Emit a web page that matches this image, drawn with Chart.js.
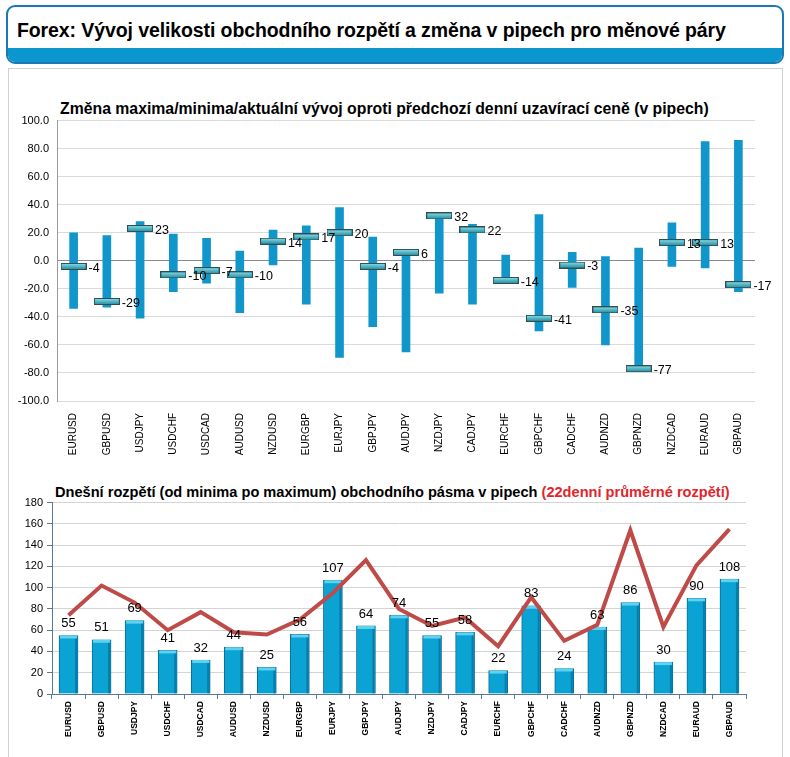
<!DOCTYPE html>
<html lang="cs">
<head>
<meta charset="UTF-8">
<title>Forex: Vývoj velikosti obchodního rozpětí</title>
<script src="https://cdn.jsdelivr.net/npm/chart.js"></script>
<style>
    body { margin: 0; background: #fff; font-family: "Liberation Sans", Arial, sans-serif; }
    .page { position: relative; width: 790px; height: 757px; overflow: hidden; }
    .header { position: absolute; left: 6px; top: 5px; width: 774px; height: 55px; border: 2px solid #1b78b4; border-radius: 9px; overflow: hidden; background: #fff; }
    .header .band { position: absolute; left: 0; right: 0; bottom: 0; height: 14px; background: #0b96cd; }
    .header h1 { margin: 0; position: absolute; left: 9px; top: 12px; font-size: 19.5px; font-weight: bold; color: #000; letter-spacing: -0.1px; }
    .panel { position: absolute; left: 8px; top: 68px; width: 773px; height: 700px; border: 1px solid #d0d0d0; }
    .title { position: absolute; font-weight: bold; color: #000; white-space: nowrap; }
    .title .red { color: #e0262c; }
    canvas { position: absolute; }
</style>
</head>
<body>
<div class="page">
    <div class="header"><h1>Forex: Vývoj velikosti obchodního rozpětí a změna v pipech pro měnové páry</h1><div class="band"></div></div>
    <div class="panel"></div>
    <div class="title" style="left:60px; top:100px; font-size:15.8px;">Změna maxima/minima/aktuální vývoj oproti předchozí denní uzavírací ceně (v pipech)</div>
    <div class="title" style="left:55px; top:484px; font-size:14.6px;">Dnešní rozpětí (od minima po maximum) obchodního pásma v pipech <span class="red">(22denní průměrné rozpětí)</span></div>
    <canvas id="changeChart" width="775" height="351" style="left:0; top:106px;"></canvas>
    <canvas id="rangeChart" width="770" height="252" style="left:0; top:492px;"></canvas>
</div>

<script>
    const pairs = ['EURUSD', 'GBPUSD', 'USDJPY', 'USDCHF', 'USDCAD', 'AUDUSD', 'NZDUSD', 'EURGBP', 'EURJPY', 'GBPJPY', 'AUDJPY',
                   'NZDJPY', 'CADJPY', 'EURCHF', 'GBPCHF', 'CADCHF', 'AUDNZD', 'GBPNZD', 'NZDCAD', 'EURAUD', 'GBPAUD'];

    // horní graf: maximum / minimum / aktuální změna (pipy)
    const highChange = [20, 18, 28, 19, 16, 7, 22, 25, 38, 17, 8, 32, 26, 4, 33, 6, 3, 9, 27, 85, 86];
    const lowChange  = [-34, -33, -41, -22, -16, -37, -3, -31, -69, -47, -65, -23, -31, -16, -50, -19, -60, -77, -4, -5, -22];
    const currentChange = [-4, -29, 23, -10, -7, -10, 14, 17, 20, -4, 6, 32, 22, -14, -41, -3, -35, -77, 13, 13, -17];
    const changeTicks = { min: -100, max: 100, step: 20 };

    // dolní graf: dnešní rozpětí a 22denní průměr
    const todayRange = [55, 51, 69, 41, 32, 44, 25, 56, 107, 64, 74, 55, 58, 22, 83, 24, 63, 86, 30, 90, 108];
    const avgRange22 = [74, 102, 86, 60, 77, 58, 56, 70, 95, 126, 80, 64, 72, 45, 91, 50, 65, 154, 63, 121, 155];
    const rangeTicks = { min: 0, max: 180, step: 20 };

    // značka aktuální hodnoty (vodorovná lišta)
    function makeMarker() {
        const c = document.createElement('canvas');
        c.width = 26; c.height = 7;
        const g = c.getContext('2d');
        const grad = g.createLinearGradient(0, 0, 0, 7);
        grad.addColorStop(0, '#9fe0ea');
        grad.addColorStop(0.5, '#4fb6c8');
        grad.addColorStop(1, '#2a8496');
        g.fillStyle = '#2d4f4f';
        g.fillRect(0, 0, 26, 7);
        g.fillStyle = grad;
        g.fillRect(1, 1, 24, 5);
        return c;
    }

    const changeLabels = {
        id: 'changeLabels',
        afterDatasetsDraw(chart) {
            const meta = chart.getDatasetMeta(1);
            const ctx = chart.ctx;
            ctx.save();
            ctx.font = '12.5px "Liberation Sans", Arial, sans-serif';
            ctx.fillStyle = '#000';
            ctx.textBaseline = 'middle';
            meta.data.forEach((pt, i) => {
                ctx.fillText(currentChange[i], pt.x + 15, pt.y + 2);
            });
            ctx.restore();
        }
    };

    new Chart(document.getElementById('changeChart'), {
        type: 'bar',
        data: {
            labels: pairs,
            datasets: [
                { label: 'Rozpětí', data: pairs.map((p, i) => [lowChange[i], highChange[i]]), backgroundColor: '#1196cc',
                  barThickness: 8, grouped: false, order: 2 },
                { label: 'Aktuální', type: 'line', data: currentChange, showLine: false, pointStyle: makeMarker(),
                  pointRadius: 13, pointHoverRadius: 13, order: 1 }
            ]
        },
        options: {
            responsive: false,
            animation: false,
            devicePixelRatio: 1,
            layout: { padding: { top: 3, right: 20, left: 0, bottom: 0 } },
            plugins: { legend: { display: false }, tooltip: { enabled: false } },
            scales: {
                x: {
                    grid: { display: false },
                    border: { display: false },
                    ticks: { color: '#000', font: { size: 10, family: '"Liberation Sans", Arial' }, maxRotation: 90, minRotation: 90, padding: 4 },
                    afterFit: s => { s.height = 56; }
                },
                y: {
                    min: changeTicks.min, max: changeTicks.max,
                    ticks: { stepSize: changeTicks.step, color: '#000', padding: 8, callback: v => v.toFixed(1),
                             font: { size: 11, family: '"Liberation Sans", Arial' } },
                    grid: { color: c => c.tick.value === 0 ? '#8a8a8a' : '#dadada', drawTicks: false },
                    border: { display: true, color: '#9a9a9a' },
                    afterFit: s => { s.width = 57; }
                }
            }
        },
        plugins: [changeLabels]
    });

    const rangeLabels = {
        id: 'rangeLabels',
        afterDatasetsDraw(chart) {
            const meta = chart.getDatasetMeta(1);
            const ctx = chart.ctx;
            ctx.save();
            ctx.font = '13px "Liberation Sans", Arial, sans-serif';
            ctx.fillStyle = '#000';
            ctx.textAlign = 'center';
            ctx.textBaseline = 'middle';
            meta.data.forEach((bar, i) => {
                ctx.fillText(todayRange[i], bar.x, bar.y - 12);
            });
            ctx.restore();
        }
    };

    const barCaps = {
        id: 'barCaps',
        afterDatasetDraw(chart, args) {
            if (args.index !== 1) return;
            const ctx = chart.ctx;
            ctx.save();
            args.meta.data.forEach(bar => {
                const w = bar.width;
                ctx.fillStyle = '#5fd2f0';
                ctx.fillRect(bar.x - w / 2 + 1, bar.y, w - 2, 3);
                ctx.fillStyle = 'rgba(0,60,90,0.35)';
                ctx.fillRect(bar.x + w / 2 - 3, bar.y + 3, 2, bar.base - bar.y - 3);
            });
            ctx.restore();
        }
    };

    new Chart(document.getElementById('rangeChart'), {
        type: 'bar',
        data: {
            labels: pairs,
            datasets: [
                { label: '22denní průměr', type: 'line', data: avgRange22, borderColor: '#bf4b48', borderWidth: 4,
                  pointRadius: 0, tension: 0, order: 1 },
                { label: 'Dnešní rozpětí', data: todayRange, backgroundColor: '#0ba2d4', borderColor: '#0a6d96',
                  borderWidth: 1, barThickness: 19, order: 2 }
            ]
        },
        options: {
            responsive: false,
            animation: false,
            devicePixelRatio: 1,
            layout: { padding: { top: 7, right: 24, left: 0, bottom: 0 } },
            plugins: { legend: { display: false }, tooltip: { enabled: false } },
            scales: {
                x: {
                    grid: { display: true, drawOnChartArea: false, color: '#5a7890', tickLength: 5, offset: true },
                    border: { display: true, color: '#5a7890' },
                    ticks: { color: '#000', font: { size: 8.5, weight: 'bold', family: '"Liberation Sans", Arial' },
                             maxRotation: 90, minRotation: 90, padding: 2 },
                    afterFit: s => { s.height = 50; }
                },
                y: {
                    min: rangeTicks.min, max: rangeTicks.max,
                    ticks: { stepSize: rangeTicks.step, color: '#000', padding: 4,
                             font: { size: 11, family: '"Liberation Sans", Arial' } },
                    grid: { color: c => c.tick.value === 0 ? 'rgba(0,0,0,0)' : '#d4d4d4', tickLength: 5,
                            tickColor: '#5a7890' },
                    border: { display: true, color: '#5a7890' },
                    afterFit: s => { s.width = 52; }
                }
            }
        },
        plugins: [rangeLabels, barCaps]
    });
</script>
</body>
</html>
